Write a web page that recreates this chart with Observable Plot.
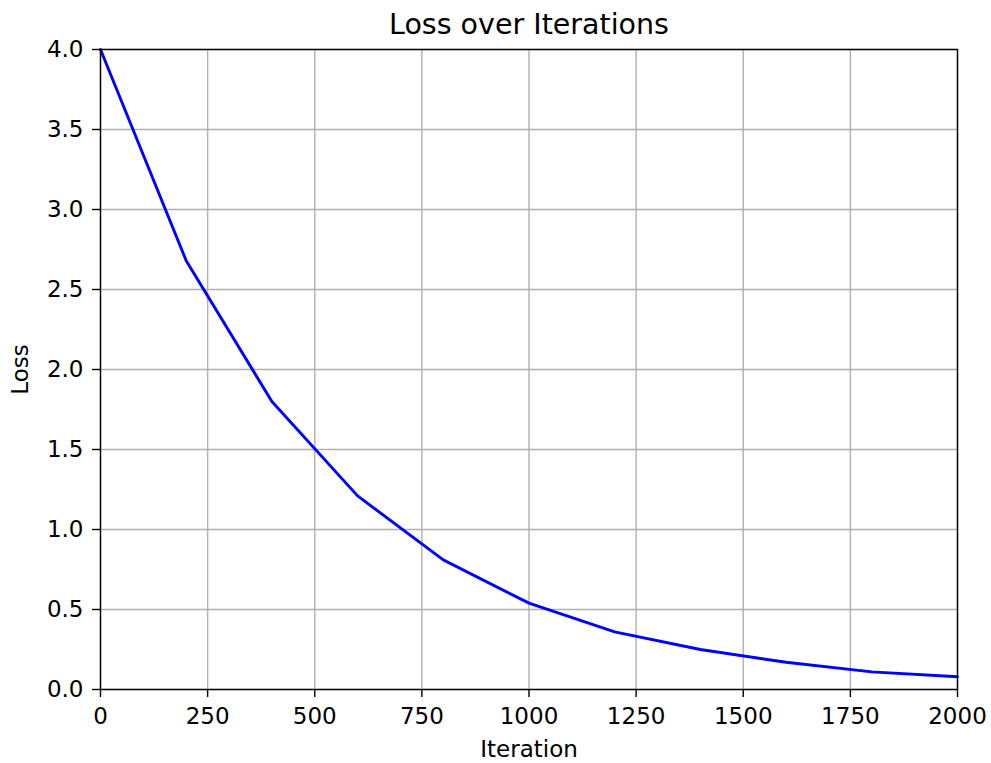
<!DOCTYPE html>
<html>
<head>
<meta charset="utf-8">
<script src="https://cdn.jsdelivr.net/npm/d3@7"></script>
<script src="https://cdn.jsdelivr.net/npm/@observablehq/plot@0.6"></script>
<style>
  html, body { margin: 0; padding: 0; background: #fff; }
  svg { display: block; }
</style>
</head>
<body>
<div id="chart"></div>
<script>
const iterations = [0, 200, 400, 600, 800, 1000, 1200, 1400, 1600, 1800, 2000];
const losses = [4.0, 2.68, 1.80, 1.21, 0.81, 0.54, 0.36, 0.25, 0.17, 0.11, 0.08];
const xTicks = [0, 250, 500, 750, 1000, 1250, 1500, 1750, 2000];
const yTicks = [0, 0.5, 1.0, 1.5, 2.0, 2.5, 3.0, 3.5, 4.0];
const titleText = "Loss over Iterations";

const data = iterations.map((x, i) => ({iteration: x, loss: losses[i]}));

const chart = Plot.plot({
  width: 991,
  height: 763,
  marginLeft: 100,
  marginRight: 34,
  marginTop: 49,
  marginBottom: 74,
  style: {fontFamily: "DejaVu Sans", fontSize: "23px", color: "#000", background: "#fff"},
  x: {domain: [0, 2000]},
  y: {domain: [0, 4]},
  marks: [
    Plot.ruleX(xTicks, {stroke: "#b0b0b0", strokeWidth: 1.4}),
    Plot.ruleY(yTicks, {stroke: "#b0b0b0", strokeWidth: 1.4}),
    Plot.line(data, {x: "iteration", y: "loss", stroke: "#0000ff", strokeWidth: 2.9}),
    Plot.frame({stroke: "#000", strokeWidth: 1.4}),
    Plot.axisX(xTicks, {tickSize: 8, tickPadding: 10, tickFormat: d3.format("d"), fontSize: 23,
      label: "Iteration", labelAnchor: "center", labelOffset: 67, labelArrow: "none", strokeWidth: 1.4}),
    Plot.axisY(yTicks, {tickSize: 8, tickPadding: 9, tickFormat: d3.format(".1f"), fontSize: 23,
      label: "Loss", labelAnchor: "center", labelOffset: 89, labelArrow: "none", strokeWidth: 1.4}),
    Plot.text([titleText], {frameAnchor: "top", dy: -25, lineAnchor: "middle", fontSize: 28.5, fill: "#000"})
  ]
});
document.getElementById("chart").appendChild(chart);
</script>
</body>
</html>
